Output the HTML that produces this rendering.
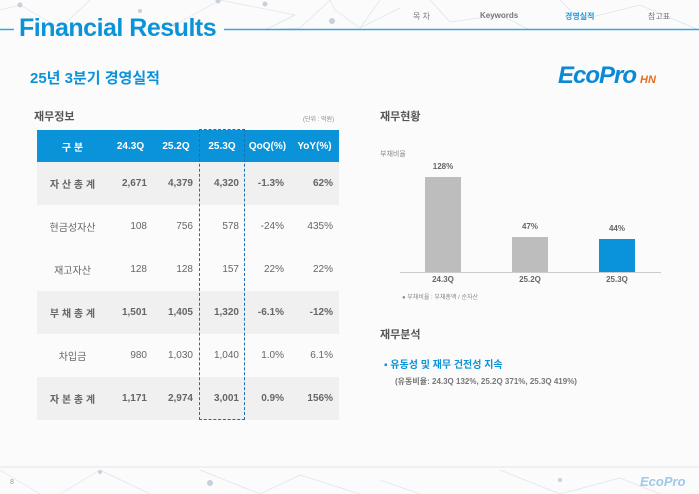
<!DOCTYPE html><html><head><meta charset="utf-8"><style>
body{margin:0;width:699px;height:494px;overflow:hidden;background:#fbfbfc;font-family:"Liberation Sans","Noto Sans CJK KR",sans-serif;position:relative}
.a{position:absolute;white-space:nowrap}
table{position:absolute;left:37px;top:130px;border-collapse:collapse;width:302px;font-size:10px;color:#666}
td{height:43px;text-align:right;padding:0 6px 0 0}
td:first-child{text-align:center;padding:0}
tr.h td{height:32px;background:#0a93d9;color:#fff;font-weight:bold;text-align:center;padding:0}
tr.g td{background:#f0f0f0;font-weight:bold}
</style></head><body>
<svg class="a" style="left:0;top:0" width="699" height="494">
<g stroke="#dde3ea" stroke-width="0.7" fill="none">
<path d="M0 10 L20 5 L60 28 L90 0 M140 30 L175 25 L220 0 M220 0 L295 15 L265 30 M265 30 L300 28 L330 0 M330 0 L335 10 L360 28 L400 8 M360 28 L380 0 M430 0 L450 22 L500 15 L530 30 M560 0 L580 20 L640 5 L699 30"/>
<path d="M0 470 L40 494 M60 494 L100 470 L150 494 M200 470 L260 494 L300 475 L360 494 M380 480 L420 494 M500 470 L560 494 L620 478 L660 494"/>
</g>
<g fill="#c8d0da"><circle cx="20" cy="5" r="2.5"/><circle cx="175" cy="25" r="2"/><circle cx="218" cy="1" r="2.5"/><circle cx="265" cy="4" r="2.5"/><circle cx="332" cy="21" r="3"/><circle cx="140" cy="11" r="2"/><circle cx="210" cy="483" r="3"/><circle cx="100" cy="472" r="2"/><circle cx="560" cy="480" r="2"/></g>
<line x1="0" y1="29.5" x2="14" y2="29.5" stroke="#3aa6de" stroke-width="1.5"/>
<line x1="224" y1="29.5" x2="699" y2="29.5" stroke="#3aa6de" stroke-width="1.5"/>
<line x1="0" y1="467" x2="699" y2="467" stroke="#e4e4e4"/>
</svg>
<div class="a" style="left:19px;top:14px;font-size:25px;font-weight:bold;color:#0a93d9;letter-spacing:-0.5px">Financial Results</div>
<div class="a" style="left:413px;top:11px;font-size:8px;color:#777">목 차</div>
<div class="a" style="left:480px;top:11px;font-size:8px;color:#777;font-weight:bold">Keywords</div>
<div class="a" style="left:565px;top:11px;font-size:8px;color:#2a9ad8;font-weight:bold">경영실적</div>
<div class="a" style="left:648px;top:11px;font-size:8px;color:#777">참고표</div>
<div class="a" style="left:30px;top:67px;font-size:15px;font-weight:bold;color:#0a93d9">25년 3분기 경영실적</div>
<div class="a" style="left:558px;top:62px;font-size:24px;font-weight:bold;font-style:italic;color:#0a8ad6;letter-spacing:-1px">EcoPro<span style="font-size:11px;color:#e96a1c;margin-left:4px;letter-spacing:0">HN</span></div>
<div class="a" style="left:34px;top:108px;font-size:11px;font-weight:bold;color:#555">재무정보</div>
<div class="a" style="left:303px;top:114px;font-size:6px;color:#888">(단위 : 억원)</div>
<table>
<tr class="h"><td style="width:71px">구 분</td><td style="width:45px">24.3Q</td><td style="width:46px">25.2Q</td><td style="width:46px">25.3Q</td><td style="width:45px">QoQ(%)</td><td>YoY(%)</td></tr>
<tr class="g"><td>자 산 총 계</td><td>2,671</td><td>4,379</td><td>4,320</td><td>-1.3%</td><td>62%</td></tr>
<tr><td>현금성자산</td><td>108</td><td>756</td><td>578</td><td>-24%</td><td>435%</td></tr>
<tr><td>재고자산</td><td>128</td><td>128</td><td>157</td><td>22%</td><td>22%</td></tr>
<tr class="g"><td>부 채 총 계</td><td>1,501</td><td>1,405</td><td>1,320</td><td>-6.1%</td><td>-12%</td></tr>
<tr><td>차입금</td><td>980</td><td>1,030</td><td>1,040</td><td>1.0%</td><td>6.1%</td></tr>
<tr class="g"><td>자 본 총 계</td><td>1,171</td><td>2,974</td><td>3,001</td><td>0.9%</td><td>156%</td></tr>
</table>
<div class="a" style="left:199px;top:129px;width:46px;height:291px;border:1px dashed #1a6fb5;box-sizing:border-box"></div>
<div class="a" style="left:380px;top:108px;font-size:11px;font-weight:bold;color:#555">재무현황</div>
<div class="a" style="left:380px;top:149px;font-size:7px;color:#888">부채비율</div>
<div class="a" style="left:425px;top:177px;width:36px;height:95px;background:#bdbdbd"></div>
<div class="a" style="left:512px;top:237px;width:36px;height:35px;background:#bdbdbd"></div>
<div class="a" style="left:599px;top:239px;width:36px;height:33px;background:#0a93d9"></div>
<div class="a" style="left:400px;top:272px;width:261px;height:1px;background:#ccc"></div>
<div class="a" style="left:425px;top:162px;width:36px;text-align:center;font-size:8px;font-weight:bold;color:#666">128%</div>
<div class="a" style="left:512px;top:222px;width:36px;text-align:center;font-size:8px;font-weight:bold;color:#666">47%</div>
<div class="a" style="left:599px;top:224px;width:36px;text-align:center;font-size:8px;font-weight:bold;color:#666">44%</div>
<div class="a" style="left:420px;top:275px;width:46px;text-align:center;font-size:8px;font-weight:bold;color:#666">24.3Q</div>
<div class="a" style="left:507px;top:275px;width:46px;text-align:center;font-size:8px;font-weight:bold;color:#666">25.2Q</div>
<div class="a" style="left:594px;top:275px;width:46px;text-align:center;font-size:8px;font-weight:bold;color:#666">25.3Q</div>
<div class="a" style="left:402px;top:292px;font-size:6px;color:#888">● 부채비율 : 부채총액 / 순자산</div>
<div class="a" style="left:380px;top:326px;font-size:11px;font-weight:bold;color:#555">재무분석</div>
<div class="a" style="left:384px;top:356px;font-size:10px;font-weight:bold;color:#0a93d9">▪ 유동성 및 재무 건전성 지속</div>
<div class="a" style="left:395px;top:376px;font-size:8px;font-weight:bold;color:#777">(유동비율: 24.3Q 132%, 25.2Q 371%, 25.3Q 419%)</div>
<div class="a" style="left:10px;top:479px;font-size:7px;color:#999">8</div>
<div class="a" style="left:640px;top:474px;font-size:13px;font-weight:bold;font-style:italic;color:#9ec9ea">EcoPro</div>
</body></html>
